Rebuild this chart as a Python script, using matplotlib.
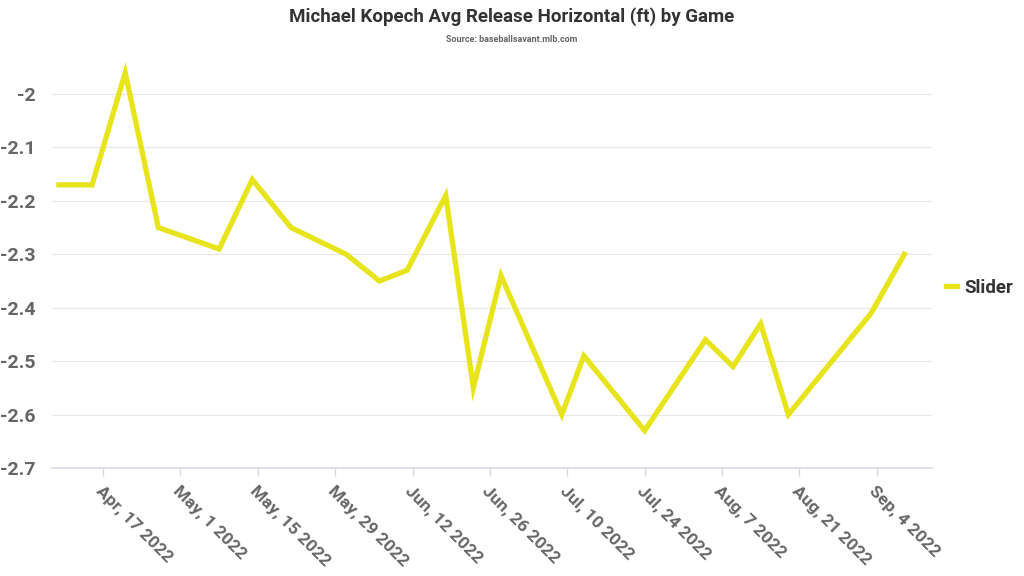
import numpy as np
import pandas as pd
import matplotlib
matplotlib.use("Agg")
import matplotlib.pyplot as plt
import matplotlib.dates as mdates
from matplotlib.ticker import FixedLocator, FuncFormatter

# game dates and avg release horizontal (ft) for the slider
game_dates = ["2022-04-09", "2022-04-15", "2022-04-21", "2022-04-27", "2022-05-08",
              "2022-05-14", "2022-05-21", "2022-05-31", "2022-06-06", "2022-06-11",
              "2022-06-18", "2022-06-23", "2022-06-28", "2022-07-09", "2022-07-13",
              "2022-07-24", "2022-08-04", "2022-08-09", "2022-08-14", "2022-08-19",
              "2022-09-03", "2022-09-09"]
slider = [-2.17, -2.17, -1.96, -2.25, -2.29, -2.16, -2.25, -2.30, -2.35, -2.33,
          -2.19, -2.55, -2.34, -2.60, -2.49, -2.63, -2.46, -2.51, -2.43, -2.60,
          -2.41, -2.30]
tick_dates = ["2022-04-17", "2022-05-01", "2022-05-15", "2022-05-29", "2022-06-12",
              "2022-06-26", "2022-07-10", "2022-07-24", "2022-08-07", "2022-08-21",
              "2022-09-04"]
y_ticks = [-2.0, -2.1, -2.2, -2.3, -2.4, -2.5, -2.6, -2.7]

FONT = "Roboto"
GRAY = "#666666"
YELLOW = "#E8E41C"

x = pd.to_datetime(game_dates)
xt = pd.to_datetime(tick_dates)

fig = plt.figure(figsize=(10.24, 5.76), dpi=100)
ax = fig.add_axes([52 / 1024, 108 / 576, 880 / 1024, 406 / 576])

ax.plot(x, slider, color=YELLOW, lw=3.8, solid_joinstyle="miter", label="Slider")

ax.set_xlim(pd.Timestamp("2022-04-07 18:00"), pd.Timestamp("2022-09-14"))
ax.set_ylim(-2.7, -1.94)

ax.yaxis.set_major_locator(FixedLocator(y_ticks))
ax.yaxis.set_major_formatter(FuncFormatter(lambda v, p: ("%.1f" % v).rstrip("0").rstrip(".")))
ax.set_xticks(mdates.date2num(xt))
ax.set_xticklabels([d.strftime("%b, ") + str(d.day) + " 2022" for d in xt])

for s in ["left", "right", "top"]:
    ax.spines[s].set_visible(False)
ax.spines["bottom"].set_color("#d8dbe3")
ax.spines["bottom"].set_linewidth(1.2)

ax.grid(axis="y", color="#e8e8e8", lw=0.9)
ax.set_axisbelow(True)

ax.tick_params(axis="y", length=0, pad=12, labelsize=14, labelcolor=GRAY)
ax.tick_params(axis="x", length=6, width=1, color="#d8dbe3", pad=5, labelsize=12.5, labelcolor=GRAY)
for lab in ax.get_yticklabels():
    lab.set_fontfamily(FONT)
    lab.set_fontweight("bold")
for lab in ax.get_xticklabels():
    lab.set_fontfamily(FONT)
    lab.set_fontweight("bold")
    lab.set_rotation(-45)
    lab.set_ha("left")
    lab.set_va("top")
    lab.set_rotation_mode("anchor")

fig.text(0.5, 1 - 17 / 576, "Michael Kopech Avg Release Horizontal (ft) by Game",
         ha="center", va="center", fontsize=13.5, fontweight="bold",
         family=FONT, color="#333333")
fig.text(0.5, 1 - 39 / 576, "Source: baseballsavant.mlb.com", ha="center",
         va="center", fontsize=6.5, fontweight="bold", family=FONT, color=GRAY)

leg = ax.legend(loc="center left", frameon=False,
                handlelength=0.6, handletextpad=0.4, borderpad=0, borderaxespad=0,
                prop={"family": FONT, "weight": "bold", "size": 13.5})
for t in leg.get_texts():
    t.set_color("#333333")
leg.set_bbox_to_anchor((946 / 1024, 1 - 288 / 576), transform=fig.transFigure)

fig.savefig("out.png", dpi=100, facecolor="white")
